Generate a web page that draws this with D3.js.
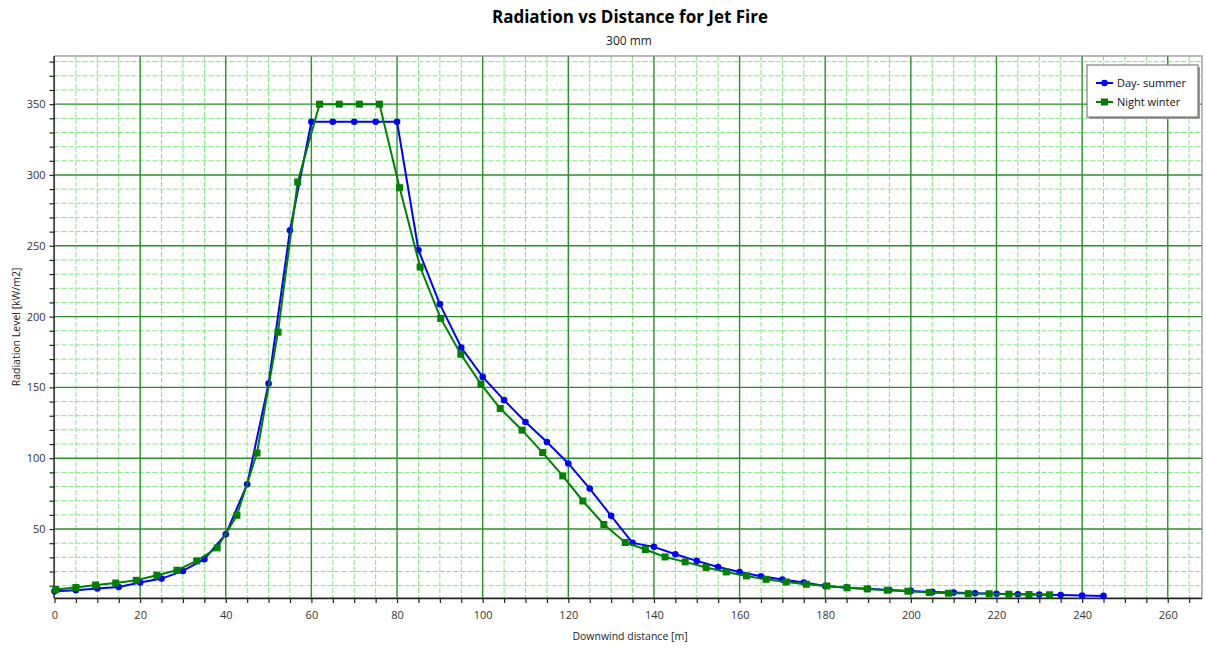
<!DOCTYPE html>
<html>
<head>
<meta charset="utf-8">
<script src="https://cdn.jsdelivr.net/npm/d3@7"></script>
<style>
  body { margin: 0; background: #fff; }
  svg { display: block; font-family: "Open Sans", "DejaVu Sans", sans-serif; }
</style>
</head>
<body>
<svg id="chart" width="1206" height="648"></svg>
<script>
// series names
const seriesNames = ["Day- summer", "Night winter"];

// Day- summer (blue, circles)
const dayX = [0, 5, 10, 15, 20, 25, 30, 35, 40, 45, 50, 55, 60, 65, 70, 75, 80, 85, 90, 95,
  100, 105, 110, 115, 120, 125, 130, 135, 140, 145, 150, 155, 160, 165, 170, 175, 180, 185, 190, 195,
  200, 205, 210, 215, 220, 225, 230, 235, 240, 245];
const dayY = [6, 6.8, 8, 9.1, 12.2, 15, 20.4, 28.7, 46.3, 81.6, 152.8, 261, 337.5, 337.5, 337.5, 337.5, 337.5, 247, 208.8, 178.2,
  157.4, 141, 125.6, 111.5, 96.3, 78.6, 59.3, 40.2, 37.4, 32.2, 27.5, 23.2, 19.7, 16.7, 14.3, 12.2, 9.8, 8.6, 7.8, 7.0,
  6.3, 5.6, 5.1, 4.7, 4.3, 4.0, 3.7, 3.4, 3.1, 2.8];

// Night winter (green, squares)
const nightX = [0.3, 5, 9.6, 14.3, 19.1, 23.9, 28.6, 33.2, 38, 42.6, 47.3, 52.2, 56.8, 61.9, 66.5, 71.2, 75.9, 80.6, 85.4, 90.2,
  94.9, 99.6, 104.1, 109.2, 114, 118.7, 123.4, 128.3, 133.3, 138, 142.6, 147.3, 152.2, 156.9, 161.6, 166.2, 170.9, 175.6, 180.4, 185.1,
  189.8, 194.5, 199.3, 204.3, 208.8, 213.4, 218.3, 222.9, 227.6, 232.4];
const nightY = [7.3, 8.7, 10.5, 11.9, 13.8, 17.4, 20.9, 27.5, 36.7, 59.7, 103.7, 189, 295, 350, 350, 350, 350, 291, 235, 198.7,
  173.4, 152.3, 135.1, 119.8, 104, 87.5, 69.8, 53.2, 40.5, 35.5, 30.3, 26.8, 22.8, 19.7, 16.9, 14.5, 12.6, 11, 9.8, 8.5,
  7.7, 6.8, 6.1, 5.2, 4.7, 4.4, 4.3, 4.0, 3.8, 3.6];

// tick values
const xMajorTicks = [0, 20, 40, 60, 80, 100, 120, 140, 160, 180, 200, 220, 240, 260];
const yMajorTicks = [50, 100, 150, 200, 250, 300, 350];

const svg = d3.select("#chart");
const pLeft = 54.5, pRight = 1202, pTop = 56, pBottom = 598;

const x = d3.scaleLinear().domain([0, 268]).range([pLeft, pRight]);
const y = d3.scaleLinear().domain([1.3, 384]).range([pBottom, pTop]);

// titles
svg.append("text").attr("x", 630).attr("y", 23).attr("text-anchor", "middle")
  .attr("font-size", 17).attr("font-weight", "bold").attr("fill", "#000")
  .text("Radiation vs Distance for Jet Fire");
svg.append("text").attr("x", 629).attr("y", 45).attr("text-anchor", "middle")
  .attr("font-size", 12).attr("fill", "#222").text("300 mm");

// minor grid (dashed)
const grid = svg.append("g");
const xMinor = d3.range(0, 269, 5).filter(d => d % 20 != 0);
const yMinor = d3.range(10, 384, 10).filter(d => d % 50 != 0);
grid.selectAll(".vmin").data(xMinor).enter().append("line")
  .attr("x1", d => x(d)).attr("x2", d => x(d)).attr("y1", pTop).attr("y2", pBottom)
  .attr("stroke", "#80e680").attr("stroke-width", 1).attr("stroke-dasharray", "5,2");
grid.selectAll(".hmin").data(yMinor).enter().append("line")
  .attr("x1", pLeft).attr("x2", pRight).attr("y1", d => y(d)).attr("y2", d => y(d))
  .attr("stroke", "#80e680").attr("stroke-width", 1).attr("stroke-dasharray", "5,2");

// major grid (solid)
grid.selectAll(".vmaj").data(xMajorTicks.filter(d => d > 0)).enter().append("line")
  .attr("x1", d => x(d)).attr("x2", d => x(d)).attr("y1", pTop).attr("y2", pBottom)
  .attr("stroke", "#2a8f2a").attr("stroke-width", 1.4);
grid.selectAll(".hmaj").data(yMajorTicks).enter().append("line")
  .attr("x1", pLeft).attr("x2", pRight).attr("y1", d => y(d)).attr("y2", d => y(d))
  .attr("stroke", "#2a8f2a").attr("stroke-width", 1.4);

// frame
svg.append("rect").attr("x", pLeft).attr("y", pTop).attr("width", pRight - pLeft).attr("height", pBottom - pTop)
  .attr("fill", "none").attr("stroke", "#8a8a8a").attr("stroke-width", 1.2);

// axes
const xAxis = d3.axisBottom(x).tickValues(d3.range(0, 269, 5)).tickSize(5).tickPadding(8)
  .tickFormat(d => d % 20 == 0 ? d : "");
const gx = svg.append("g").attr("transform", `translate(0,${pBottom})`).call(xAxis);
const yAxis = d3.axisLeft(y).tickValues(d3.range(10, 384, 10)).tickSize(5).tickPadding(4)
  .tickFormat(d => d % 50 == 0 ? d : "");
const gy = svg.append("g").attr("transform", `translate(${pLeft},0)`).call(yAxis);
[gx, gy].forEach(g => {
  g.select(".domain").attr("stroke", "#222").attr("stroke-width", 1.3);
  g.selectAll(".tick line").attr("stroke", "#222").attr("stroke-width", 1.2);
  g.selectAll(".tick text").attr("fill", "#333").attr("font-size", 11)
    .attr("font-family", "'Open Sans', sans-serif");
});
gx.select(".domain").attr("d", `M${pLeft},0.5H${pRight}`);
gy.select(".domain").attr("d", `M-0.5,${pBottom}V${pTop}`);

// axis labels
svg.append("text").attr("x", 630).attr("y", 640).attr("text-anchor", "middle")
  .attr("font-size", 10.5).attr("fill", "#222").text("Downwind distance [m]");
svg.append("text").attr("transform", `translate(20,${(pTop + pBottom) / 2}) rotate(-90)`)
  .attr("text-anchor", "middle").attr("font-size", 10.5).attr("fill", "#222")
  .text("Radiation Level [kW/m2]");

// lines
const line = d3.line().x(d => x(d[0])).y(d => y(d[1]));
const dayPts = dayX.map((d, i) => [d, dayY[i]]);
const nightPts = nightX.map((d, i) => [d, nightY[i]]);

svg.append("path").datum(dayPts).attr("d", line)
  .attr("fill", "none").attr("stroke", "#0000ff").attr("stroke-width", 2);
svg.selectAll(".dayDot").data(dayPts).enter().append("circle")
  .attr("cx", d => x(d[0])).attr("cy", d => y(d[1])).attr("r", 3.3).attr("fill", "#0000ff");

svg.append("path").datum(nightPts).attr("d", line)
  .attr("fill", "none").attr("stroke", "#008000").attr("stroke-width", 2);
svg.selectAll(".nightDot").data(nightPts).enter().append("rect")
  .attr("x", d => x(d[0]) - 3.5).attr("y", d => y(d[1]) - 3.5).attr("width", 7).attr("height", 7)
  .attr("fill", "#008000");

// legend
const lg = svg.append("g").attr("transform", "translate(1087,65)");
lg.append("rect").attr("x", 2).attr("y", 2).attr("width", 111).attr("height", 52).attr("fill", "#9a9a9a");
lg.append("rect").attr("x", 0).attr("y", 0).attr("width", 111).attr("height", 52)
  .attr("fill", "#fff").attr("stroke", "#666").attr("stroke-width", 1);
const colors = ["#0000ff", "#008000"];
seriesNames.forEach((name, i) => {
  const yy = 18 + i * 19;
  lg.append("line").attr("x1", 9).attr("x2", 26).attr("y1", yy).attr("y2", yy)
    .attr("stroke", colors[i]).attr("stroke-width", 2);
  if (i == 0) {
    lg.append("circle").attr("cx", 17.5).attr("cy", yy).attr("r", 3.3).attr("fill", colors[i]);
  } else {
    lg.append("rect").attr("x", 14).attr("y", yy - 3.5).attr("width", 7).attr("height", 7).attr("fill", colors[i]);
  }
  lg.append("text").attr("x", 30).attr("y", yy + 4).attr("font-size", 11).attr("fill", "#111").text(name);
});
</script>
</body>
</html>
